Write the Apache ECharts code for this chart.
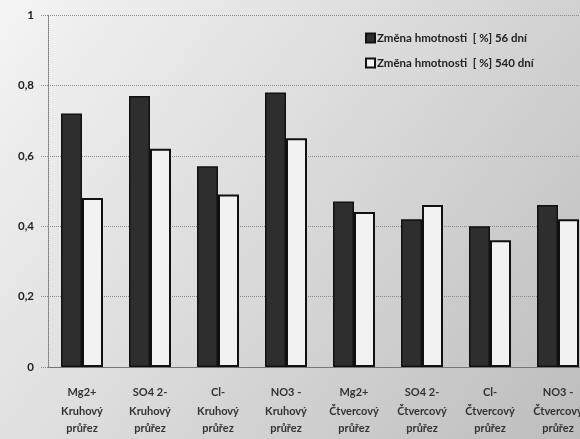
<!DOCTYPE html>
<html><head><meta charset="utf-8">
<script src="https://cdn.jsdelivr.net/npm/echarts@6/dist/echarts.min.js"></script>
<style>html,body{margin:0;padding:0;background:#fff;overflow:hidden;width:580px;height:439px}#c{width:592px;height:439px}</style>
</head><body><div id="c"></div>
<script>
const ions = ['Mg2+', 'SO4 2-', 'Cl-', 'NO3 -', 'Mg2+', 'SO4 2-', 'Cl-', 'NO3 -'];
const sections = ['Kruhový průřez', 'Kruhový průřez', 'Kruhový průřez', 'Kruhový průřez',
  'Čtvercový průřez', 'Čtvercový průřez', 'Čtvercový průřez', 'Čtvercový průřez'];
const categories = ions.map((v, i) => v + '|' + sections[i]);
const seriesNames = ['Změna hmotnosti  [ %] 56 dní', 'Změna hmotnosti  [ %] 540 dní'];
const values56 = [0.72, 0.77, 0.57, 0.78, 0.47, 0.42, 0.40, 0.46];
const values540 = [0.48, 0.62, 0.49, 0.65, 0.44, 0.46, 0.36, 0.42];
const yTicks = [0, 0.2, 0.4, 0.6, 0.8, 1];

const chart = echarts.init(document.getElementById('c'));
const font = 'Lato, "Open Sans", sans-serif';
chart.setOption({
  backgroundColor: new echarts.graphic.LinearGradient(0, 0, 1, 1, [
    {offset: 0, color: '#f4f4f4'}, {offset: 0.45, color: '#dcdcdc'}, {offset: 1, color: '#bcbcbc'}
  ]),
  animation: false,
  textStyle: {fontFamily: font},
  legend: {
    orient: 'vertical', left: 360, top: 27, itemGap: 13, itemWidth: 9, itemHeight: 9,
    icon: 'rect',
    textStyle: {fontSize: 11.5, fontWeight: 'bold', color: '#222', padding: [0, 0, 0, -3]},
    data: seriesNames
  },
  grid: {left: 48, top: 15, right: 0, bottom: 72},
  xAxis: {
    type: 'category', data: categories,
    axisLine: {lineStyle: {color: '#777', width: 1}},
    axisTick: {length: 72, lineStyle: {color: '#9a9a9a'}},
    axisLabel: {
      margin: 14, interval: 0,
      formatter: v => { const p = v.split('|'); const s = p[1].split(' ');
        return '{a|' + p[0] + '}\n{b|' + s[0] + '}\n{b|' + s[1] + '}'; },
      rich: {
        a: {fontSize: 11, fontWeight: 'bold', color: '#333', lineHeight: 22, fontFamily: font},
        b: {fontSize: 11, fontWeight: 'bold', color: '#333', lineHeight: 17, fontFamily: font}
      }
    }
  },
  yAxis: {
    type: 'value', min: yTicks[0], max: yTicks[yTicks.length - 1], interval: 0.2,
    axisLine: {show: true, lineStyle: {color: '#777', type: 'dotted'}},
    axisTick: {show: true, length: 7, lineStyle: {color: '#888', type: 'dotted'}},
    axisLabel: {margin: 14, fontSize: 11.5, fontWeight: 'bold', color: '#222',
      formatter: v => String(+v.toFixed(1)).replace('.', ',')},
    splitLine: {lineStyle: {color: '#8a8a8a', type: 'dotted'}}
  },
  series: [
    {name: seriesNames[0], type: 'bar', data: values56, barWidth: 21, barGap: '0%',
      itemStyle: {color: '#2e2e2e', borderColor: '#111', borderWidth: 1.5}},
    {name: seriesNames[1], type: 'bar', data: values540, barWidth: 21,
      itemStyle: {color: '#f2f2f2', borderColor: '#111', borderWidth: 2}}
  ]
});
</script></body></html>
